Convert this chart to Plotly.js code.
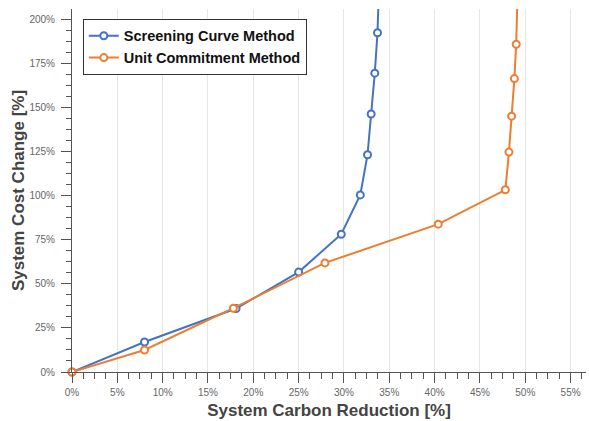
<!DOCTYPE html>
<html>
<head>
<meta charset="utf-8">
<script src="https://cdn.plot.ly/plotly-3.0.1.min.js"></script>
<style>
html,body{margin:0;padding:0;background:#fff;}
#chart{width:589px;height:421px;}
</style>
</head>
<body>
<div id="chart"></div>
<script>
// System carbon reduction [%] (x) and system cost change [%] (y)
var seriesNames = ["Screening Curve Method", "Unit Commitment Method"];
var carbonScreening = [0, 8.0, 18.1, 25.0, 29.7, 31.8, 32.6, 33.0, 33.4, 33.7, 33.9];
var costScreening   = [0, 17.0, 36.0, 56.7, 78.2, 100.5, 123.3, 146.4, 169.6, 192.5, 225];
var carbonUnit = [0, 8.0, 17.8, 27.9, 40.4, 47.8, 48.2, 48.5, 48.8, 49.0, 49.2];
var costUnit   = [0, 12.5, 36.2, 61.9, 83.9, 103.4, 124.8, 145.2, 166.5, 186.0, 225];
var xTitle = "System Carbon Reduction [%]";
var yTitle = "System Cost Change [%]";

var blue = "#4472C4", orange = "#ED7D31";
function trace(x, y, name, color) {
  return {
    x: x, y: y, name: name, type: "scatter", mode: "lines+markers",
    cliponaxis: false,
    line: {color: color, width: 2},
    marker: {symbol: "circle", size: 7, color: "#ffffff", line: {color: color, width: 2}}
  };
}
var data = [
  trace(carbonScreening, costScreening, seriesNames[0], blue),
  trace(carbonUnit, costUnit, seriesNames[1], orange)
];
var fam = "Liberation Sans, Arial, Helvetica, sans-serif";
var tickFont = {family: fam, size: 10, color: "#666"};
var titleFont = {family: fam, size: 17, color: "#444", weight: "bold"};
var layout = {
  width: 589, height: 421,
  margin: {l: 72, r: 3, t: 9, b: 49},
  paper_bgcolor: "#fff", plot_bgcolor: "#fff",
  showlegend: true,
  legend: {
    x: 0.021, y: 0.973, xanchor: "left", yanchor: "top",
    bgcolor: "#fff", bordercolor: "#333", borderwidth: 1,
    font: {family: fam, size: 14.5, color: "#111", weight: "bold"},
    itemwidth: 30, tracegroupgap: 0
  },
  xaxis: {
    range: [0, 56.7], dtick: 5, ticksuffix: "%",
    showgrid: true, gridcolor: "#e6e6e6", gridwidth: 1,
    zeroline: false, showline: true, linecolor: "#555", linewidth: 1,
    ticks: "outside", ticklen: 10, tickcolor: "#555", tickwidth: 1,
    ticklabelstandoff: 1,
    minor: {dtick: 1.25, ticks: "outside", ticklen: 6, tickcolor: "#555", showgrid: false},
    tickfont: tickFont,
    title: {text: xTitle, font: titleFont, standoff: 7}
  },
  yaxis: {
    range: [0, 206], dtick: 25, ticksuffix: "%",
    showgrid: false, zeroline: false, showline: true, linecolor: "#555", linewidth: 1,
    ticks: "outside", ticklen: 10, tickcolor: "#555", tickwidth: 1,
    ticklabelstandoff: 4,
    minor: {dtick: 6.25, ticks: "outside", ticklen: 5, tickcolor: "#555", showgrid: false},
    tickfont: tickFont,
    title: {text: yTitle, font: titleFont, standoff: 0}
  }
};
Plotly.newPlot("chart", data, layout, {displayModeBar: false, staticPlot: true});
</script>
</body>
</html>
